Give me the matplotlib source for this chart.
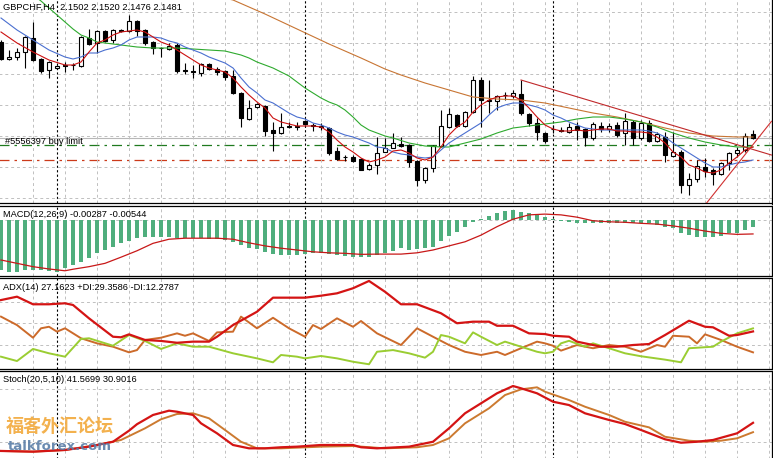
import matplotlib
matplotlib.use("Agg")
import matplotlib.pyplot as plt

# ---- price data (GBPCHF H4) ----
opens = [2.1962, 2.1877, 2.1887, 2.1912, 2.1982, 2.1877, 2.1822, 2.1832, 2.1847, 2.1845,
         2.1842, 2.1982, 2.1957, 2.2017, 2.1972, 2.2020, 2.2017, 2.2067, 2.2022, 2.1962,
         2.1932, 2.1927, 2.1947, 2.1820, 2.1815, 2.1807, 2.1852, 2.1827, 2.1817, 2.1792,
         2.1707, 2.1577, 2.1637, 2.1642, 2.1522, 2.1507, 2.1540, 2.1537, 2.1567, 2.1545,
         2.1540, 2.1532, 2.1417, 2.1387, 2.1387, 2.1377, 2.1327, 2.1347, 2.1412, 2.1432,
         2.1452, 2.1447, 2.1367, 2.1272, 2.1332, 2.1442, 2.1537, 2.1597, 2.1542, 2.1612,
         2.1772, 2.1672, 2.1667, 2.1697, 2.1692, 2.1702, 2.1602, 2.1557, 2.1507, 2.1527,
         2.1520, 2.1512, 2.1542, 2.1527, 2.1482, 2.1542, 2.1527, 2.1547, 2.1507, 2.1562,
         2.1482, 2.1557, 2.1467, 2.1487, 2.1392, 2.1412, 2.1247, 2.1277, 2.1337, 2.1322,
         2.1302, 2.1357, 2.1407, 2.1422, 2.1502]
highs = [2.1972, 2.1922, 2.1932, 2.1992, 2.2062, 2.1882, 2.1867, 2.1847, 2.1862, 2.1857,
         2.1992, 2.2027, 2.2022, 2.2022, 2.2027, 2.2027, 2.2097, 2.2072, 2.2027, 2.1967,
         2.1937, 2.1957, 2.1957, 2.1857, 2.1847, 2.1857, 2.1857, 2.1837, 2.1822, 2.1822,
         2.1712, 2.1672, 2.1657, 2.1647, 2.1562, 2.1607, 2.1562, 2.1562, 2.1572, 2.1557,
         2.1557, 2.1537, 2.1437, 2.1397, 2.1397, 2.1382, 2.1357, 2.1487, 2.1482, 2.1507,
         2.1487, 2.1452, 2.1372, 2.1337, 2.1447, 2.1622, 2.1632, 2.1602, 2.1617, 2.1792,
         2.1787, 2.1772, 2.1697, 2.1712, 2.1722, 2.1772, 2.1607, 2.1582, 2.1512, 2.1547,
         2.1537, 2.1557, 2.1562, 2.1532, 2.1562, 2.1562, 2.1557, 2.1562, 2.1607, 2.1572,
         2.1572, 2.1572, 2.1512, 2.1512, 2.1512, 2.1422, 2.1307, 2.1372, 2.1382, 2.1332,
         2.1362, 2.1412, 2.1437, 2.1507, 2.1520]
lows = [2.1872, 2.1872, 2.1872, 2.1832, 2.1867, 2.1807, 2.1782, 2.1827, 2.1812, 2.1822,
        2.1837, 2.1947, 2.1907, 2.1962, 2.1957, 2.2012, 2.2012, 2.1992, 2.1947, 2.1902,
        2.1887, 2.1922, 2.1807, 2.1802, 2.1782, 2.1792, 2.1822, 2.1797, 2.1772, 2.1702,
        2.1537, 2.1572, 2.1632, 2.1492, 2.1417, 2.1502, 2.1532, 2.1522, 2.1547, 2.1517,
        2.1522, 2.1397, 2.1372, 2.1367, 2.1362, 2.1320, 2.1320, 2.1302, 2.1410, 2.1430,
        2.1437, 2.1337, 2.1242, 2.1257, 2.1312, 2.1437, 2.1532, 2.1537, 2.1537, 2.1607,
        2.1537, 2.1607, 2.1622, 2.1672, 2.1682, 2.1597, 2.1542, 2.1472, 2.1457, 2.1507,
        2.1512, 2.1507, 2.1472, 2.1442, 2.1472, 2.1512, 2.1512, 2.1487, 2.1447, 2.1447,
        2.1472, 2.1462, 2.1462, 2.1362, 2.1387, 2.1207, 2.1197, 2.1262, 2.1287, 2.1247,
        2.1297, 2.1322, 2.1387, 2.1412, 2.1476]
closes = [2.1877, 2.1887, 2.1912, 2.1987, 2.1872, 2.1817, 2.1862, 2.1842, 2.1844, 2.1847,
          2.1987, 2.1952, 2.2017, 2.1967, 2.2022, 2.2017, 2.2067, 2.2017, 2.1957, 2.1932,
          2.1930, 2.1942, 2.1817, 2.1817, 2.1812, 2.1852, 2.1827, 2.1812, 2.1787, 2.1707,
          2.1582, 2.1632, 2.1652, 2.1517, 2.1507, 2.1537, 2.1537, 2.1540, 2.1552, 2.1542,
          2.1537, 2.1407, 2.1377, 2.1385, 2.1367, 2.1322, 2.1347, 2.1407, 2.1432, 2.1457,
          2.1442, 2.1362, 2.1272, 2.1332, 2.1442, 2.1542, 2.1602, 2.1542, 2.1612, 2.1772,
          2.1672, 2.1667, 2.1692, 2.1695, 2.1707, 2.1607, 2.1557, 2.1512, 2.1467, 2.1525,
          2.1517, 2.1537, 2.1522, 2.1487, 2.1552, 2.1527, 2.1542, 2.1497, 2.1567, 2.1482,
          2.1557, 2.1467, 2.1502, 2.1397, 2.1412, 2.1247, 2.1277, 2.1342, 2.1317, 2.1302,
          2.1357, 2.1407, 2.1422, 2.1492, 2.1481]

# moving averages (bar index, price)
ma_red_x = list(range(0, 95))
ma_red_x.remove(1); ma_red_x.remove(3); ma_red_x.remove(5); ma_red_x.remove(7)
ma_red = [2.2012, 2.1957, 2.1912, 2.1872, 2.1847, 2.1847, 2.1862, 2.1912, 2.1957, 2.1972,
          2.1997, 2.2012, 2.2017, 2.2022, 2.2012, 2.1987, 2.1962, 2.1947, 2.1922, 2.1897,
          2.1872, 2.1847, 2.1832, 2.1822, 2.1812, 2.1782, 2.1737, 2.1697, 2.1662, 2.1632,
          2.1582, 2.1562, 2.1552, 2.1542, 2.1542, 2.1542, 2.1537, 2.1512, 2.1472, 2.1437,
          2.1412, 2.1382, 2.1362, 2.1372, 2.1387, 2.1417, 2.1422, 2.1407, 2.1382, 2.1372,
          2.1387, 2.1437, 2.1497, 2.1537, 2.1562, 2.1612, 2.1647, 2.1672, 2.1687, 2.1692,
          2.1692, 2.1672, 2.1632, 2.1587, 2.1547, 2.1527, 2.1517, 2.1517, 2.1522, 2.1517,
          2.1522, 2.1527, 2.1527, 2.1517, 2.1517, 2.1512, 2.1512, 2.1507, 2.1487, 2.1457,
          2.1412, 2.1387, 2.1347, 2.1332, 2.1312, 2.1307, 2.1322, 2.1357, 2.1387, 2.1422,
          2.1437]

ma_blue_x = ma_red_x
ma_blue = [2.2082, 2.2022, 2.1972, 2.1922, 2.1887, 2.1877, 2.1887, 2.1907, 2.1907, 2.1922,
           2.1932, 2.1947, 2.1972, 2.1987, 2.1987, 2.1987, 2.1982, 2.1967, 2.1957, 2.1937,
           2.1922, 2.1907, 2.1887, 2.1872, 2.1857, 2.1832, 2.1782, 2.1737, 2.1707, 2.1672,
           2.1657, 2.1632, 2.1607, 2.1587, 2.1577, 2.1557, 2.1547, 2.1532, 2.1512, 2.1497,
           2.1487, 2.1472, 2.1457, 2.1437, 2.1432, 2.1412, 2.1402, 2.1397, 2.1387, 2.1382,
           2.1387, 2.1422, 2.1457, 2.1482, 2.1507, 2.1532, 2.1557, 2.1597, 2.1632, 2.1647,
           2.1657, 2.1657, 2.1647, 2.1637, 2.1622, 2.1597, 2.1582, 2.1562, 2.1547, 2.1532,
           2.1527, 2.1522, 2.1522, 2.1522, 2.1522, 2.1522, 2.1522, 2.1517, 2.1507, 2.1487,
           2.1457, 2.1432, 2.1407, 2.1382, 2.1357, 2.1337, 2.1337, 2.1347, 2.1357, 2.1362,
           2.1372]

ma_green_x = [3, 4, 5, 6, 7, 8, 9, 10, 11, 12, 13, 14, 15, 16, 17, 19, 22, 24, 26, 28,
              29, 30, 31, 32, 33, 34, 35, 36, 37, 38, 39, 40, 41, 42, 43, 44, 45, 46, 47, 48,
              49, 51, 53, 55, 56, 58, 60, 62, 64, 66, 68, 70, 72, 74, 76, 78, 80, 82, 84, 86,
              88, 90, 92, 94]
ma_green = [2.2232, 2.2197, 2.2167, 2.2132, 2.2097, 2.2062, 2.2027, 2.1997, 2.1982, 2.1962,
            2.1957, 2.1952, 2.1947, 2.1942, 2.1937, 2.1932, 2.1932, 2.1927, 2.1922, 2.1917,
            2.1907, 2.1897, 2.1882, 2.1862, 2.1847, 2.1832, 2.1812, 2.1792, 2.1762, 2.1732,
            2.1707, 2.1682, 2.1662, 2.1647, 2.1622, 2.1587, 2.1547, 2.1522, 2.1507, 2.1492,
            2.1482, 2.1457, 2.1442, 2.1437, 2.1437, 2.1457, 2.1477, 2.1507, 2.1532, 2.1542,
            2.1552, 2.1562, 2.1577, 2.1587, 2.1587, 2.1577, 2.1562, 2.1537, 2.1507, 2.1482,
            2.1462, 2.1447, 2.1437, 2.1437]

ma_orange_x = [27, 29, 33, 37, 41, 45, 48, 50, 53, 56, 59, 62, 65, 68, 71, 74, 77, 80, 83, 86,
               89, 92, 94]
ma_orange = [2.2190, 2.2172, 2.2102, 2.2027, 2.1952, 2.1882, 2.1827, 2.1797, 2.1757, 2.1722,
             2.1687, 2.1677, 2.1672, 2.1657, 2.1632, 2.1607, 2.1587, 2.1562, 2.1532, 2.1507,
             2.1492, 2.1487, 2.1487]

# trend lines and pending orders
trend1 = [(65, 2.1772), (96.3, 2.1397)]
trend2 = [(88.2, 2.1157), (96.3, 2.1565)]
buy_limit = 2.1445
red_order = 2.1370
bid = 2.1481

# ---- MACD(12,26,9) ----
macd_hist = [-0.0195, -0.0202, -0.0202, -0.0195, -0.0195, -0.0195, -0.0198, -0.0202, -0.0188, -0.0176,
             -0.0163, -0.0149, -0.0130, -0.0117, -0.0104, -0.0091, -0.0081, -0.0071, -0.0068, -0.0065,
             -0.0065, -0.0065, -0.0071, -0.0071, -0.0071, -0.0071, -0.0075, -0.0075, -0.0078, -0.0085,
             -0.0098, -0.0110, -0.0114, -0.0124, -0.0133, -0.0137, -0.0137, -0.0137, -0.0133, -0.0130,
             -0.0130, -0.0133, -0.0137, -0.0140, -0.0143, -0.0143, -0.0146, -0.0135, -0.0128, -0.0120,
             -0.0110, -0.0117, -0.0114, -0.0110, -0.0104, -0.0081, -0.0062, -0.0048, -0.0029, -0.0007,
             0.0004, 0.0017, 0.0026, 0.0035, 0.0039, 0.0032, 0.0026, 0.0020, 0.0010, 0.0003,
             -0.0003, -0.0007, -0.0010, -0.0013, -0.0013, -0.0013, -0.0013, -0.0013, -0.0013, -0.0013,
             -0.0013, -0.0013, -0.0020, -0.0026, -0.0032, -0.0050, -0.0058, -0.0065, -0.0068, -0.0068,
             -0.0062, -0.0052, -0.0052, -0.0039, -0.00287]
macd_sig_x = [0, 2, 4, 6, 8, 9, 11, 13, 15, 17, 19, 21, 23, 25, 27, 29, 31, 33, 35, 37,
              39, 41, 43, 45, 47, 50, 52, 54, 56, 58, 60, 62, 64, 66, 68, 70, 72, 74, 76, 78,
              80, 82, 84, 86, 88, 90, 92, 94]
macd_sig = [-0.0156, -0.0169, -0.0182, -0.0191, -0.0198, -0.0192, -0.0182, -0.0169, -0.0145, -0.0120,
            -0.0091, -0.0075, -0.0071, -0.0071, -0.0071, -0.0075, -0.0089, -0.0101, -0.0110, -0.0117,
            -0.0124, -0.0128, -0.0130, -0.0134, -0.0133, -0.0133, -0.0128, -0.0117, -0.0101, -0.0085,
            -0.0059, -0.0026, 0.0003, 0.0020, 0.0023, 0.0020, 0.0011, -0.0003, -0.0007, -0.0009,
            -0.0013, -0.0016, -0.0023, -0.0032, -0.0043, -0.0052, -0.0056, -0.00544]

# ---- ADX(14) ----
adx_x = [0, 2, 4, 6, 8, 9, 11, 14, 15, 16, 18, 20, 22, 24, 26, 27, 29, 32, 34, 36,
         38, 40, 42, 44, 46, 48, 50, 52, 55, 57, 59, 61, 62, 64, 66, 68, 69, 71, 72, 75,
         77, 79, 81, 83, 86, 88, 89, 91, 92, 94]
adx = [49.5, 51.9, 46.5, 46.5, 47.2, 46.0, 36.5, 23.4, 23.0, 25.1, 21.1, 20.4, 19.1, 19.9, 19.9,
       23.4, 31.7, 41.2, 51.2, 51.2, 51.2, 52.6, 54.3, 57.9, 63.1, 55.4, 46.5, 46.5, 40.1, 33.0,
       34.1, 34.1, 31.2, 31.2, 25.8, 25.3, 24.1, 23.4, 19.9, 16.3, 16.3, 17.5, 18.2, 24.6, 34.8,
       30.5, 30.1, 24.1, 24.6, 27.1623]
pdi_x = [0, 2, 4, 6, 8, 10, 11, 14, 16, 18, 20, 22, 24, 26, 29, 32, 34, 35, 37, 38,
         40, 42, 44, 46, 47, 49, 51, 53, 54, 55, 56, 58, 59, 60, 62, 63, 65, 67, 68, 69,
         70, 71, 73, 74, 76, 78, 80, 83, 85, 86, 89, 90, 92, 94]
pdi = [9.2, 6.1, 14.7, 11.6, 9.2, 21.8, 22.3, 17.0, 24.6, 20.4, 14.7, 18.7, 16.3, 16.3, 11.6,
       8.0, 5.2, 10.4, 9.2, 8.0, 9.7, 8.0, 5.6, 3.8, 12.7, 13.9, 11.6, 8.5, 12.7, 24.6,
       23.4, 18.7, 26.5, 23.4, 17.5, 19.9, 16.3, 12.7, 11.6, 12.7, 18.7, 20.5, 16.3, 18.7, 15.2,
       11.6, 9.5, 7.1, 5.2, 15.2, 16.3, 19.9, 25.8, 29.3586]
mdi_x = [0, 2, 4, 5, 6, 7, 8, 10, 12, 14, 16, 17, 18, 20, 22, 23, 24, 26, 27, 29,
         30, 32, 34, 36, 38, 39, 40, 42, 44, 45, 47, 50, 52, 54, 56, 58, 60, 62, 63, 65,
         67, 68, 69, 70, 72, 74, 76, 78, 80, 82, 83, 84, 86, 87, 88, 90, 92, 94]
mdi = [37.7, 31.7, 22.7, 29.4, 30.5, 27.0, 29.4, 22.3, 18.7, 16.3, 12.3, 13.9, 21.1, 22.7, 25.8,
       24.1, 25.8, 20.4, 26.5, 27.0, 37.7, 29.4, 36.9, 29.4, 23.4, 31.7, 28.9, 36.5, 30.5, 34.6,
       25.8, 17.5, 29.4, 23.4, 17.5, 12.7, 10.4, 12.7, 10.4, 15.2, 19.9, 18.7, 17.0, 13.5, 17.5,
       15.2, 17.5, 16.3, 12.7, 17.5, 16.3, 24.1, 23.4, 18.7, 25.1, 21.1, 16.3, 12.2787]

# ---- Stochastic(20,5,10) ----
stoch_main_x = [0, 4, 8, 11, 14, 16, 17, 19, 21, 22, 24, 25, 27, 29, 31, 33, 35, 37, 40, 44,
                45, 47, 51, 54, 56, 58, 60, 62, 64, 65, 67, 69, 71, 73, 76, 78, 80, 83, 85, 87,
                89, 92, 94]
stoch_main = [9.5, 8.7, 10.6, 14.4, 20.0, 32.6, 40.0, 50.5, 55.4, 54.2, 50.5, 41.0, 29.6, 16.3, 12.5,
              12.5, 13.7, 14.4, 16.3, 16.3, 13.7, 12.5, 14.4, 20.0, 35.3, 52.4, 63.8, 75.2, 83.5, 80.9,
              75.2, 65.6, 61.8, 52.4, 44.8, 40.2, 33.4, 22.8, 18.9, 20.0, 22.0, 29.6, 41.5699]
stoch_sig_x = [0, 4, 8, 12, 15, 18, 20, 22, 24, 26, 28, 30, 32, 35, 40, 44, 48, 52, 54, 56,
               58, 61, 63, 65, 67, 68, 71, 73, 76, 78, 81, 83, 86, 88, 90, 92, 94]
stoch_sig = [9.5, 8.7, 10.6, 16.3, 22.0, 35.3, 45.6, 51.6, 52.4, 46.7, 33.4, 20.0, 12.5, 12.5, 14.4,
             15.1, 12.5, 13.7, 16.3, 23.9, 41.0, 58.1, 73.2, 79.7, 82.0, 77.0, 67.5, 59.9, 50.5, 42.8,
             36.4, 25.7, 21.2, 20.0, 21.2, 23.9, 30.9016]

separators = [7, 38, 69]

W, H = 773, 458
fig = plt.figure(figsize=(W / 100, H / 100), dpi=100)


def box(x0, y0, x1, y1):
    return [x0 / W, 1 - y1 / H, (x1 - x0) / W, (y1 - y0) / H]


label_font = dict(family="Liberation Sans", size=6.7, color="black")
grid_col = "#c0c0c0"


def setup(ax, ylim, hlines):
    ax.set_xlim(-0.25, 96.31)
    ax.set_ylim(*ylim)
    ax.set_xticks(range(4, 97, 4))
    ax.set_yticks(hlines)
    ax.grid(True, color=grid_col, linestyle=(0, (3, 3)), linewidth=0.7)
    ax.tick_params(length=0, labelbottom=False, labelleft=False)
    for s in ax.spines.values():
        s.set_color("black")
        s.set_linewidth(0.9)
    ax.spines["left"].set_visible(False)
    for sx in separators:
        ax.axvline(sx, color="black", linestyle=(0, (2, 2)), linewidth=0.8, zorder=1)


# ---- main chart ----
ax = fig.add_axes(box(-1, -1, 771.5, 203.5))
setup(ax, (2.11545, 2.2177), [2.1182 + 0.0155 * k for k in range(7)])
ax.spines["top"].set_visible(False)

ax.axhline(bid, color="#b8b8b8", linewidth=0.8, zorder=1)
ax.axhline(buy_limit, color="#1f7a1f", linestyle=(0, (8, 4, 2, 4)), linewidth=0.9, zorder=1)
ax.axhline(red_order, color="#cc3a1a", linestyle=(0, (8, 4, 2, 4)), linewidth=0.9, zorder=1)

for i in range(len(opens)):
    o, h, l, c = opens[i], highs[i], lows[i], closes[i]
    ax.vlines(i, l, h, color="black", linewidth=0.8, zorder=3)
    ax.bar(i, abs(c - o) if abs(c - o) > 0 else 0.00001, bottom=min(o, c), width=0.62,
           facecolor="white" if c >= o else "black", edgecolor="black", linewidth=0.8, zorder=4)

ax.plot(ma_orange_x, ma_orange, color="#c87533", linewidth=0.8, zorder=5)
ax.plot(ma_green_x, ma_green, color="#2eaa2e", linewidth=0.8, zorder=5)
ax.plot(ma_blue_x, ma_blue, color="#4a6fd0", linewidth=0.8, zorder=5)
ax.plot(ma_red_x, ma_red, color="#cc1010", linewidth=0.8, zorder=5)

ax.plot([p[0] for p in trend1], [p[1] for p in trend1], color="#c0282a", linewidth=0.8, zorder=6)
ax.axline(trend2[0], trend2[1], color="#d03030", linewidth=0.8, zorder=6)

ax.text(0.5, 2.14545, "#5556397 buy limit", va="baseline", ha="left", zorder=7, **label_font)
ax.text(0.3, 2.2136, "GBPCHF,H4  2.1502 2.1520 2.1476 2.1481", va="center", ha="left",
        zorder=7, **label_font)

# ---- MACD ----
ax2 = fig.add_axes(box(-1, 206, 771.5, 276))
setup(ax2, (-0.02184, 0.00546), [0.0])
ax2.bar(range(len(macd_hist)), macd_hist, width=0.38, color="#4fae7d", zorder=3)
ax2.plot(macd_sig_x, macd_sig, color="#c81818", linewidth=0.9, zorder=4)
ax2.text(0.3, 0.0020, "MACD(12,26,9) -0.00287 -0.00544", va="center", ha="left", zorder=7,
         **label_font)

# ---- ADX ----
ax3 = fig.add_axes(box(-1, 278, 771.5, 369))
setup(ax3, (0.43, 65.2), [17.5, 33.0, 48.3])
ax3.plot(mdi_x, mdi, color="#cc6a2a", linewidth=1.4, zorder=3)
ax3.plot(pdi_x, pdi, color="#9acd32", linewidth=1.4, zorder=4)
ax3.plot(adx_x, adx, color="#d41414", linewidth=1.6, zorder=5)
ax3.text(0.3, 58.6, "ADX(14) 27.1623 +DI:29.3586 -DI:12.2787", va="center", ha="left",
         zorder=7, **label_font)

# ---- Stochastic ----
ax4 = fig.add_axes(box(-1, 371, 771.5, 460))
setup(ax4, (-0.8, 100.6), [20, 80])
ax4.spines["bottom"].set_visible(False)
ax4.plot(stoch_sig_x, stoch_sig, color="#cc7a30", linewidth=1.4, zorder=3)
ax4.plot(stoch_main_x, stoch_main, color="#d41414", linewidth=1.6, zorder=4)
ax4.text(0.3, 91.0, "Stoch(20,5,10) 41.5699 30.9016", va="center", ha="left", zorder=7,
         **label_font)

# watermark
ax4.text(0.6, 37.0, "福客外汇论坛", va="center", ha="left", fontsize=13, fontweight="bold",
         color="#f2a93b", alpha=0.9, family=["Noto Sans CJK SC", "DejaVu Sans"], zorder=8)
ax4.text(0.9, 14.5, "talkforex.com", va="center", ha="left", fontsize=9.5, fontweight="bold",
         color="#5b7ea8", alpha=0.9, family="DejaVu Sans", zorder=8)

fig.savefig("out.png", dpi=100)
